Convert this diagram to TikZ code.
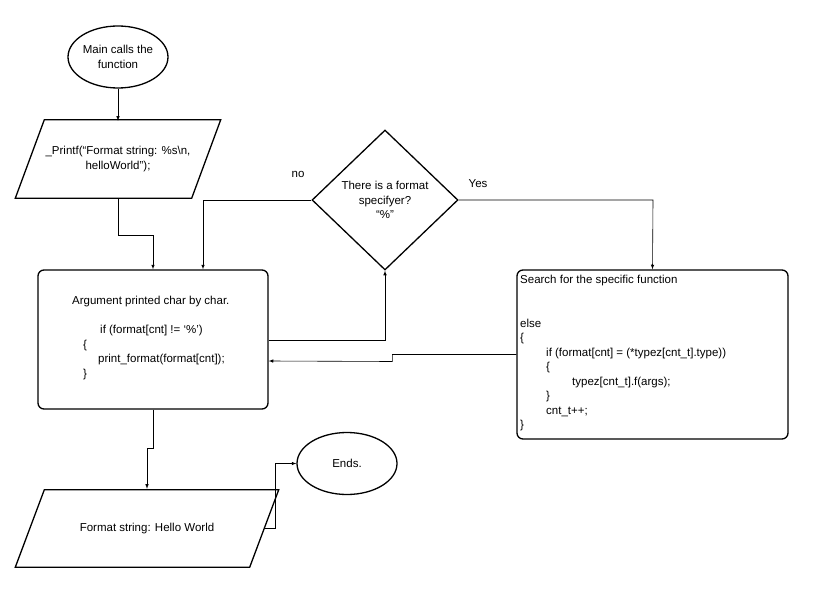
\documentclass[tikz,border=0pt]{standalone}
\usepackage{fontspec}
\setmainfont{Liberation Sans}
\usetikzlibrary{positioning, shapes.geometric}

\begin{document}
\begin{tikzpicture}[x=1pt, y=-1pt, font=\fontsize{11.5}{14.5}\selectfont]

  \tikzstyle{block}=[draw, line width=1.3pt, inner sep=0pt]
  \tikzstyle{terminal}=[block, ellipse, minimum width=100, minimum height=62, align=center]
  \tikzstyle{process}=[block, rounded corners=6pt]
  \tikzstyle{io}=[inner sep=0pt, align=center]
  \tikzstyle{slanted}=[line width=1.3pt]
  \tikzstyle{decision}=[block, diamond, minimum width=146, minimum height=140, align=center]
  \tikzstyle{code}=[align=left, inner sep=0pt, anchor=north west]
  \tikzstyle{flow}=[-latex, line width=0.6pt]

  \useasboundingbox (0,0) rectangle (821,596);

  \node [terminal] (start) at (118,57) {Main calls the\\function};
  \node [io, minimum width=176, minimum height=78] (printf) at (118,159)
    {\_Printf(``Format string: \%s\textbackslash n,\\helloWorld'');};
  \draw [slanted] ([xshift=-14.5]printf.south west) -- ([xshift=14.5]printf.north west)
    -- ([xshift=14.5]printf.north east) -- ([xshift=-14.5]printf.south east) -- cycle;

  \node [process, minimum width=230, minimum height=139] (arg) at (153,339.5) {};
  \node [code] (arg-text) at (72,296) {Argument printed char by char.\\[14.5pt]
    \hspace*{28pt}if (format[cnt] != `\%')\\
    \hspace*{11pt}\{\\
    \hspace*{26pt}print\_format(format[cnt]);\\
    \hspace*{11pt}\}};

  \node [decision] (check) at (385,200) {There is a format\\specifyer?\\``\%''};
  \node (no-label) at (298,174) {no};
  \node (yes-label) at (478,184) {Yes};

  \node [process, minimum width=271, minimum height=169] (search) at (652.5,354.5) {};
  \node [code] (search-text) at (520,275) {Search for the specific function\\[29pt]
    else\\
    \{\\
    \hspace*{26pt}if (format[cnt] = (*typez[cnt\_t].type))\\
    \hspace*{26pt}\{\\
    \hspace*{52pt}typez[cnt\_t].f(args);\\
    \hspace*{26pt}\}\\
    \hspace*{26pt}cnt\_t++;\\
    \}};

  \node [io, minimum width=234, minimum height=77] (output) at (147,528.5) {Format string: Hello World};
  \draw [slanted] ([xshift=-14.5]output.south west) -- ([xshift=14.5]output.north west)
    -- ([xshift=14.5]output.north east) -- ([xshift=-14.5]output.south east) -- cycle;
  \node [terminal] (end) at (347,463.5) {Ends.};

  \coordinate (no-turn) at (203,200);
  \coordinate (yes-turn) at (653,200);

  \draw [flow] (start) -- ([yshift=-1]printf.north);
  \draw [flow] (printf.south) -- ++(0,37) -| (arg.north);
  \draw [flow] (check.west) -- (no-turn) -- ([xshift=50]arg.north);
  \draw [flow] (check.east) -- (yes-turn) -- (search.north);
  \draw [flow] ([yshift=-0.5]arg.east) -| (check.south);
  \draw [flow] (search.west) -- ++(-124,0) -- ++(0,7) -- ([yshift=-21.5]arg.east);
  \draw [flow] (arg.south) -- ++(0,39) -| ([yshift=1]output.north);
  \draw [flow] (output.east) -- ++(11,0) |- (end.west);

\end{tikzpicture}
\end{document}
